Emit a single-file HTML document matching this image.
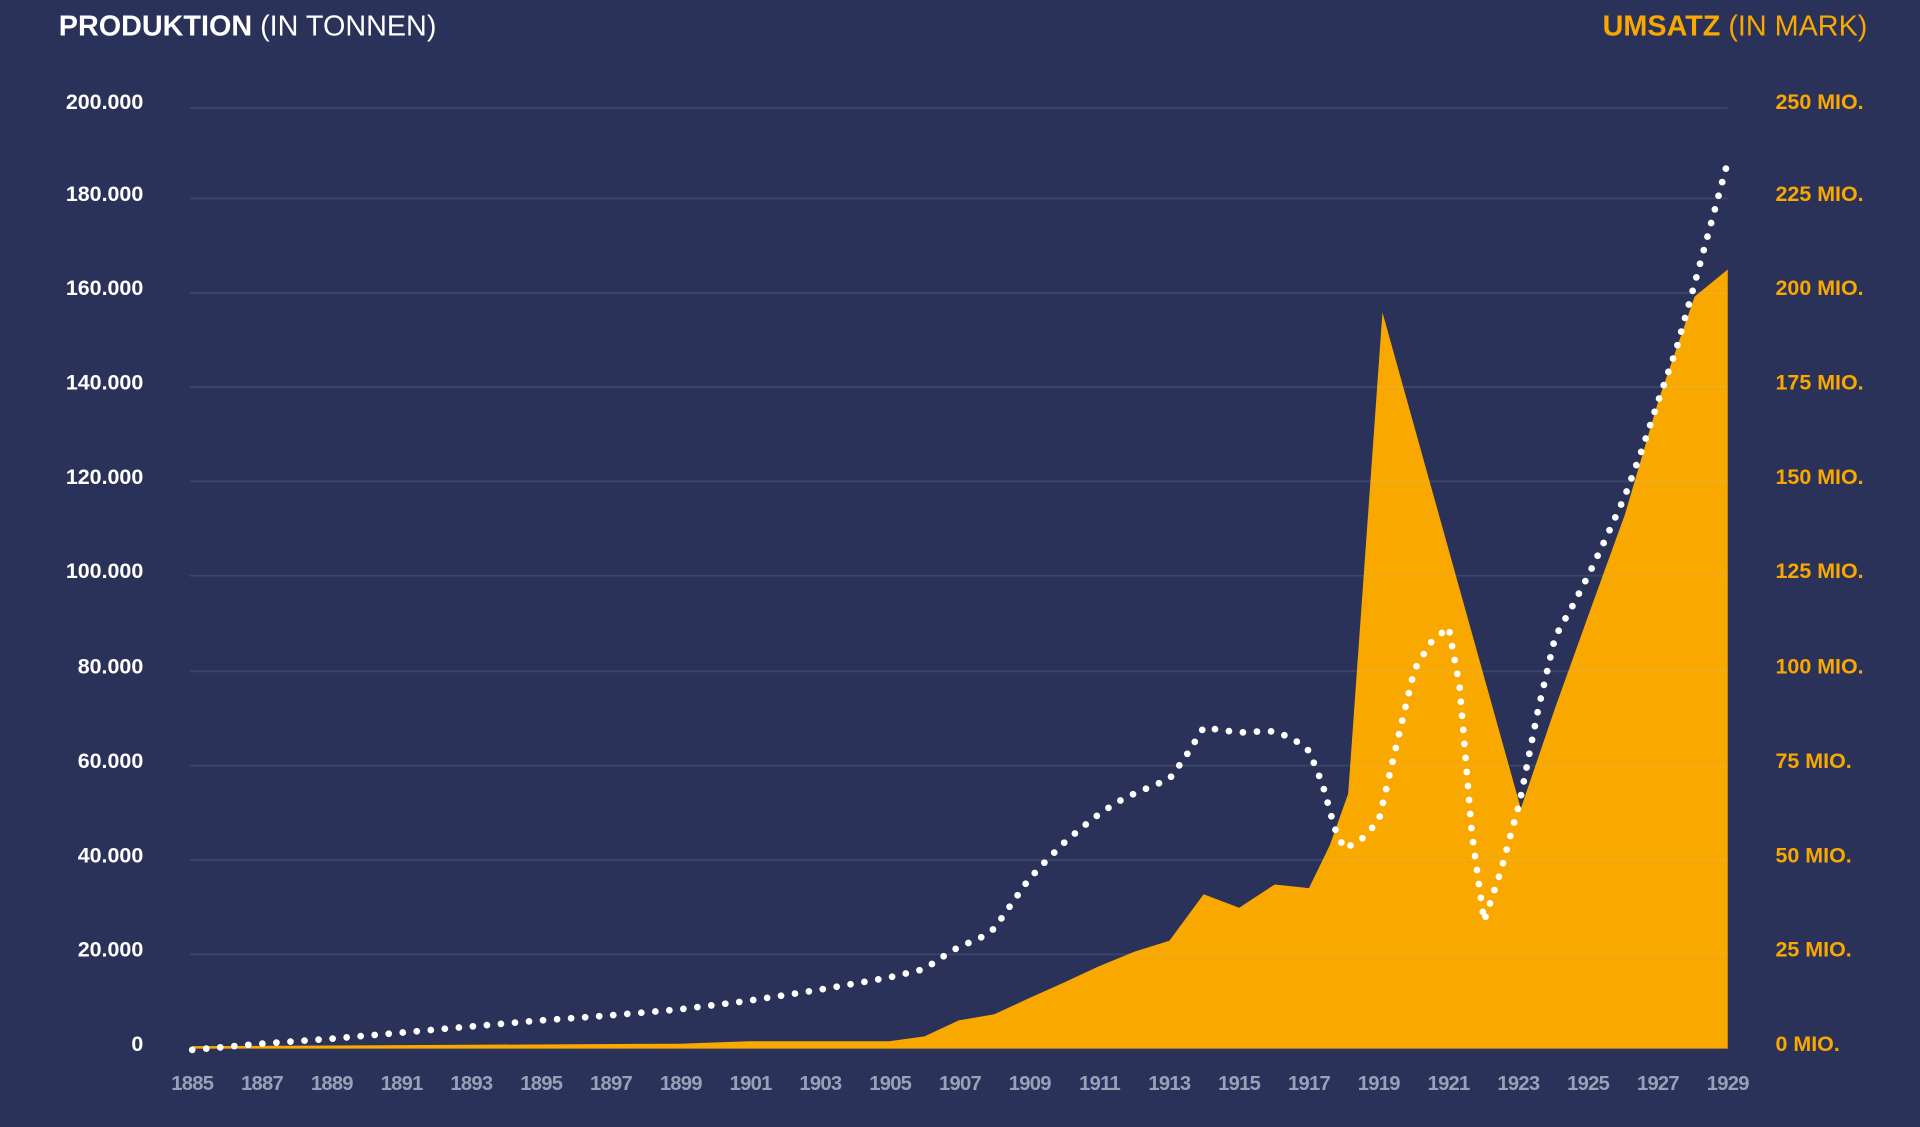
<!DOCTYPE html>
<html><head><meta charset="utf-8"><style>
html,body{margin:0;padding:0;background:#2a3259;}
svg{display:block;}
text{font-family:"Liberation Sans",sans-serif;font-weight:bold;}
</style></head><body>
<svg width="1920" height="1127" viewBox="0 0 1568 920" preserveAspectRatio="none">
<rect width="1568" height="920" fill="#2a3259"/>
<text x="48" y="29" font-size="23.5" fill="#fff">PRODUKTION <tspan font-weight="normal">(IN TONNEN)</tspan></text>
<text x="1525" y="29" font-size="23.5" fill="#f9a800" text-anchor="end">UMSATZ <tspan font-weight="normal">(IN MARK)</tspan></text>
<polygon fill="#f9a800" points="157,856 157,854 555,852 611,850 726,850 755,846 783,833 812,828 840,815 869,802 897,789 926,777 955,768 983,730 1012,741 1041,722 1069,725 1086,690 1101,648 1129,255 1242,660 1270,578 1298,500 1327,420 1355,325 1384,242 1411,220 1411,856"/>
<g stroke="#c8cde0" stroke-opacity="0.12" stroke-width="1.5">
<line x1="155" x2="1411" y1="88" y2="88"/><line x1="155" x2="1411" y1="162" y2="162"/><line x1="155" x2="1411" y1="239" y2="239"/><line x1="155" x2="1411" y1="316" y2="316"/><line x1="155" x2="1411" y1="393" y2="393"/><line x1="155" x2="1411" y1="470" y2="470"/><line x1="155" x2="1411" y1="548" y2="548"/><line x1="155" x2="1411" y1="625" y2="625"/><line x1="155" x2="1411" y1="702" y2="702"/><line x1="155" x2="1411" y1="779" y2="779"/>
</g>
<polyline fill="none" stroke="#fff" stroke-width="5.5" stroke-linecap="round" stroke-linejoin="round" stroke-dasharray="0 11.5" points="157,857 213,852 270,848 327,843 384,838 441,833 497,829 555,824 611,817 669,808 726,798 755,791 770,781 783,773 800,766 812,758 826,738 840,718 855,702 869,688 883,676 897,665 912,655 926,648 945,640 955,636 968,618 983,594 998,596 1012,598 1030,597 1041,597 1056,603 1069,613 1080,640 1090,676 1098,693 1112,685 1126,670 1140,610 1155,547 1168,525 1183,512 1192,560 1202,680 1212,752 1226,710 1241,655 1256,580 1270,520 1284,495 1298,468 1313,436 1327,405 1341,367 1355,325 1369,285 1383,235 1398,180 1411,132"/>
<g font-size="17.5" fill="#fff" text-anchor="end">
<text x="117" y="89">200.000</text><text x="117" y="164">180.000</text><text x="117" y="241">160.000</text><text x="117" y="318">140.000</text><text x="117" y="395">120.000</text><text x="117" y="472">100.000</text><text x="117" y="550">80.000</text><text x="117" y="627">60.000</text><text x="117" y="704">40.000</text><text x="117" y="781">20.000</text><text x="117" y="858">0</text>
</g>
<g font-size="17.5" fill="#f9a800">
<text x="1450" y="89">250 MIO.</text><text x="1450" y="164">225 MIO.</text><text x="1450" y="241">200 MIO.</text><text x="1450" y="318">175 MIO.</text><text x="1450" y="395">150 MIO.</text><text x="1450" y="472">125 MIO.</text><text x="1450" y="550">100 MIO.</text><text x="1450" y="627">75 MIO.</text><text x="1450" y="704">50 MIO.</text><text x="1450" y="781">25 MIO.</text><text x="1450" y="858">0 MIO.</text>
</g>
<g font-size="16.5" fill="#9aa0b8" text-anchor="middle" letter-spacing="-0.6">
<text x="157" y="890">1885</text><text x="214" y="890">1887</text><text x="271" y="890">1889</text><text x="328" y="890">1891</text><text x="385" y="890">1893</text><text x="442" y="890">1895</text><text x="499" y="890">1897</text><text x="556" y="890">1899</text><text x="613" y="890">1901</text><text x="670" y="890">1903</text><text x="727" y="890">1905</text><text x="784" y="890">1907</text><text x="841" y="890">1909</text><text x="898" y="890">1911</text><text x="955" y="890">1913</text><text x="1012" y="890">1915</text><text x="1069" y="890">1917</text><text x="1126" y="890">1919</text><text x="1183" y="890">1921</text><text x="1240" y="890">1923</text><text x="1297" y="890">1925</text><text x="1354" y="890">1927</text><text x="1411" y="890">1929</text>
</g>
</svg>
</body></html>
